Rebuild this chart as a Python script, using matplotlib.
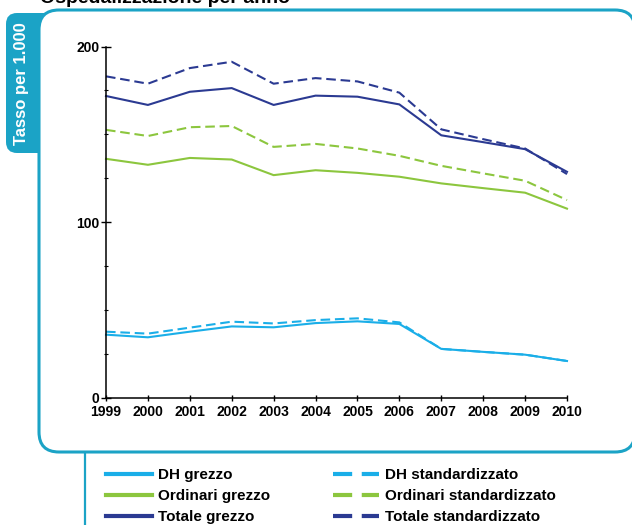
import matplotlib
matplotlib.use("Agg")
import matplotlib.pyplot as plt
from matplotlib.patches import FancyBboxPatch
from matplotlib.lines import Line2D
from matplotlib.transforms import IdentityTransform
from matplotlib.ticker import MultipleLocator
from matplotlib import font_manager as fm

years = [1999, 2000, 2001, 2002, 2003, 2004, 2005, 2006, 2007, 2008, 2009, 2010]
dh_grezzo = [35.8, 34.3, 37.5, 40.5, 40.0, 42.4, 43.4, 41.9, 27.7, 26.0, 24.4, 20.8]
dh_std = [37.5, 36.4, 39.8, 43.2, 42.2, 44.1, 45.1, 42.8, 27.7, 26.0, 24.4, 20.8]
ord_grezzo = [136.0, 132.6, 136.5, 135.6, 126.7, 129.5, 128.0, 125.8, 122.0, 119.3, 116.7, 107.6]
ord_std = [152.5, 149.0, 154.0, 154.7, 142.8, 144.5, 141.9, 137.7, 132.0, 127.7, 123.5, 112.5]
tot_grezzo = [171.8, 166.7, 174.2, 176.3, 166.7, 172.0, 171.4, 167.0, 149.4, 145.5, 141.5, 128.6]
tot_std = [183.0, 178.8, 187.7, 191.3, 178.8, 182.0, 180.1, 173.7, 152.8, 147.2, 141.9, 127.3]

title = "Ospedalizzazione per anno"
ylabel = "Tasso per 1.000"
labels = ["DH grezzo", "Ordinari grezzo", "Totale grezzo",
          "DH standardizzato", "Ordinari standardizzato", "Totale standardizzato"]

C_DH = "#1aaee8"
C_ORD = "#8cc63e"
C_TOT = "#2b3a92"
TEAL = "#1ba3c6"

W, H = 632, 525
fig = plt.figure(figsize=(W / 100, H / 100), dpi=100)
fig.patch.set_facecolor("white")

def fy(y):
    return H - y

# left tab (drawn first, partially covered by frame)
tab = FancyBboxPatch((6, fy(153)), 50, 140, boxstyle="round,pad=0,rounding_size=11",
                     transform=IdentityTransform(), facecolor=TEAL, edgecolor="none", zorder=-3)
fig.patches.append(tab)
frame = FancyBboxPatch((39, fy(452)), 596, 442, boxstyle="round,pad=0,rounding_size=20",
                       transform=IdentityTransform(), facecolor="white", edgecolor=TEAL,
                       linewidth=2.2, zorder=-2)
fig.patches.append(frame)
fig.lines.append(Line2D([85, 85], [fy(452), fy(530)], transform=IdentityTransform(),
                        color=TEAL, linewidth=1.6, zorder=-2))

fig.text(22 / W, 1 - 84 / H, ylabel, rotation=90, color="white", fontsize=12,
         fontweight="bold", family="Liberation Sans", ha="center", va="center")
fig.text(40 / W, 1 - 3 / H, title, fontsize=14, fontweight="bold",
         family="Liberation Sans", ha="left", va="baseline")

ax = fig.add_axes([106 / W, 1 - 397.5 / H, (567 - 106) / W, (397.5 - 46.5) / H])
ax.set_facecolor("none")

lw = 1.5
dash = (4.6, 2.3)
ax.plot(years, dh_grezzo, color=C_DH, lw=lw, label=labels[0], clip_on=False)
ax.plot(years, ord_grezzo, color=C_ORD, lw=lw, label=labels[1], clip_on=False)
ax.plot(years, tot_grezzo, color=C_TOT, lw=lw, label=labels[2], clip_on=False)
ax.plot(years, dh_std, color=C_DH, lw=lw, ls=(0, dash), label=labels[3], clip_on=False)
ax.plot(years, ord_std, color=C_ORD, lw=lw, ls=(0, dash), label=labels[4], clip_on=False)
ax.plot(years, tot_std, color=C_TOT, lw=lw, ls=(0, dash), label=labels[5], clip_on=False)

ax.set_xlim(1999, 2010)
ax.set_ylim(0, 200)
ax.set_xticks(years)
ax.set_yticks([0, 100, 200])
ax.yaxis.set_minor_locator(MultipleLocator(25))
for s in ["top", "right"]:
    ax.spines[s].set_visible(False)
for s in ["left", "bottom"]:
    ax.spines[s].set_linewidth(1.1)

tickprop = fm.FontProperties(family="Liberation Sans", weight="bold", size=10)
ax.tick_params(axis="y", which="major", direction="inout", length=7, width=1.0, pad=1)
ax.tick_params(axis="y", which="minor", direction="inout", length=3, width=0.8)
ax.tick_params(axis="x", which="major", direction="inout", length=5, width=1.0, pad=3)
for t in ax.get_xticklabels() + ax.get_yticklabels():
    t.set_fontproperties(tickprop)

handles, labs = ax.get_legend_handles_labels()
leg = fig.legend(handles, labs, ncol=2, loc="upper left",
                 bbox_to_anchor=(106 / W, 1 - 468 / H), frameon=False,
                 prop=dict(family="Liberation Sans", weight="bold", size=11),
                 handlelength=3.0, handletextpad=0.4, columnspacing=4.1,
                 labelspacing=0.47, borderaxespad=0, borderpad=0)
for ln in leg.get_lines():
    ln.set_linewidth(3)

fig.savefig("out.png", dpi=100)
